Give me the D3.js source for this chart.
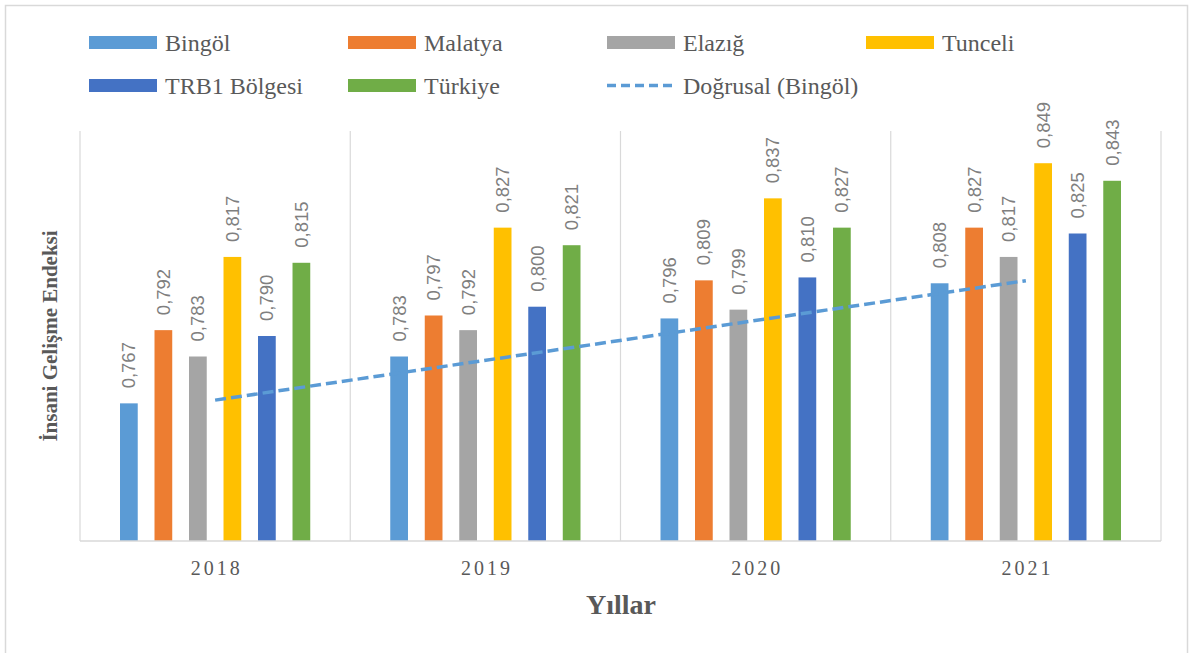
<!DOCTYPE html>
<html>
<head>
<meta charset="utf-8">
<title>İnsani Gelişme Endeksi</title>
<style>
body { margin: 0; background: #fff; }
.legend text { font-family: "Liberation Serif", "Times New Roman", serif; font-size: 24px; fill: #595959; }
.year text { font-family: "Liberation Serif", "Times New Roman", serif; font-size: 20px; fill: #595959; letter-spacing: 3px; }
.lbl { font-family: "Liberation Sans", Arial, sans-serif; font-size: 18.5px; fill: #7f7f7f; }
.title { font-family: "Liberation Serif", "Times New Roman", serif; font-weight: bold; fill: #595959; }
</style>
</head>
<body>
<svg width="1194" height="653"></svg>
<script src="https://d3js.org/d3.v7.min.js"></script>
<script>
// data
var years = ["2018", "2019", "2020", "2021"];
var series = ["Bingöl", "Malatya", "Elazığ", "Tunceli", "TRB1 Bölgesi", "Türkiye"];
var bingol  = [0.767, 0.783, 0.796, 0.808];
var malatya = [0.792, 0.797, 0.809, 0.827];
var elazig  = [0.783, 0.792, 0.799, 0.817];
var tunceli = [0.817, 0.827, 0.837, 0.849];
var trb1    = [0.790, 0.800, 0.810, 0.825];
var turkiye = [0.815, 0.821, 0.827, 0.843];
var trendName = "Doğrusal (Bingöl)";

var values = [bingol, malatya, elazig, tunceli, trb1, turkiye];
var colors = ["#5b9bd5", "#ed7d31", "#a5a5a5", "#ffc000", "#4472c4", "#70ad47"];

var svg = d3.select("svg");

// outer frame
svg.append("rect")
  .attr("x", 5.5).attr("y", 5.5)
  .attr("width", 1182).attr("height", 660)
  .attr("fill", "none").attr("stroke", "#d9d9d9").attr("stroke-width", 1.5);

var plotLeft = 80, plotRight = 1161, plotTop = 131, plotBottom = 541;

var x0 = d3.scaleBand().domain(years).range([plotLeft, plotRight]).padding(0);
var bw = x0.bandwidth();
var x1 = d3.scaleBand().domain(series).range([40, bw - 40]).paddingInner(0.486);
var y = d3.scaleLinear().domain([0.72, 0.86]).range([plotBottom, plotTop]);

// category separators
svg.append("g").selectAll("line")
  .data(d3.range(years.length + 1))
  .enter().append("line")
    .attr("x1", function(i) { return plotLeft + i * bw; })
    .attr("x2", function(i) { return plotLeft + i * bw; })
    .attr("y1", plotTop).attr("y2", plotBottom)
    .attr("stroke", "#d9d9d9").attr("stroke-width", 1.2);

// bars
var groups = svg.append("g").selectAll("g")
  .data(years)
  .enter().append("g")
    .attr("transform", function(d) { return "translate(" + x0(d) + ",0)"; });

var fmt = function(v) { return d3.format(".3f")(v).replace(".", ","); };
var rows = function(d, i) { return series.map(function(s, k) { return { s: s, k: k, v: values[k][i] }; }); };

groups.selectAll("rect")
  .data(rows)
  .enter().append("rect")
    .attr("x", function(d) { return x1(d.s); })
    .attr("width", x1.bandwidth())
    .attr("y", function(d) { return y(d.v); })
    .attr("height", function(d) { return plotBottom - y(d.v); })
    .attr("fill", function(d) { return colors[d.k]; });

groups.selectAll("text")
  .data(rows)
  .enter().append("text")
    .attr("class", "lbl")
    .attr("transform", function(d) {
      return "translate(" + (x1(d.s) + x1.bandwidth() / 2) + "," + (y(d.v) - 15) + ") rotate(-90)";
    })
    .attr("dy", "0.35em")
    .text(function(d) { return fmt(d.v); });

// baseline
svg.append("line")
  .attr("x1", plotLeft).attr("x2", plotRight)
  .attr("y1", plotBottom).attr("y2", plotBottom)
  .attr("stroke", "#d9d9d9").attr("stroke-width", 1.5);

// linear trend for Bingöl
var xs = d3.range(1, years.length + 1);
var mx = d3.mean(xs), my = d3.mean(bingol);
var slope = d3.sum(xs, function(v, i) { return (v - mx) * (bingol[i] - my); }) /
            d3.sum(xs, function(v) { return (v - mx) * (v - mx); });
var icpt = my - slope * mx;
svg.append("line")
  .attr("x1", x0(years[0]) + bw / 2)
  .attr("x2", x0(years[years.length - 1]) + bw / 2)
  .attr("y1", y(icpt + slope * 1))
  .attr("y2", y(icpt + slope * years.length))
  .attr("stroke", "#5b9bd5").attr("stroke-width", 3.5)
  .attr("stroke-dasharray", "11,5");

// year labels
svg.append("g").attr("class", "year").selectAll("text")
  .data(years)
  .enter().append("text")
    .attr("x", function(d) { return x0(d) + bw / 2 + 1.5; })
    .attr("y", 575)
    .attr("text-anchor", "middle")
    .text(function(d) { return d; });

// axis titles
svg.append("text").attr("class", "title")
  .attr("x", 621).attr("y", 614)
  .attr("text-anchor", "middle")
  .style("font-size", "28px")
  .text("Yıllar");

svg.append("text").attr("class", "title")
  .attr("transform", "translate(57," + ((plotTop + plotBottom) / 2) + ") rotate(-90)")
  .attr("text-anchor", "middle")
  .style("font-size", "21px")
  .text("İnsani Gelişme Endeksi");

// legend
var legendItems = series.map(function(s, k) { return { name: s, color: colors[k], dash: false }; });
legendItems.push({ name: trendName, color: "#5b9bd5", dash: true });
var legend = svg.append("g").attr("class", "legend");
var li = legend.selectAll("g")
  .data(legendItems)
  .enter().append("g")
    .attr("transform", function(d, i) {
      return "translate(" + (89 + (i % 4) * 259) + "," + (36 + Math.floor(i / 4) * 43) + ")";
    });
li.filter(function(d) { return !d.dash; }).append("rect")
  .attr("width", 68).attr("height", 13)
  .attr("fill", function(d) { return d.color; });
li.filter(function(d) { return d.dash; }).append("line")
  .attr("x1", 0).attr("x2", 68).attr("y1", 6.5).attr("y2", 6.5)
  .attr("stroke", function(d) { return d.color; })
  .attr("stroke-width", 3.5).attr("stroke-dasharray", "9,5");
li.append("text")
  .attr("x", 76).attr("y", 15)
  .text(function(d) { return d.name; });
</script>
</body>
</html>
